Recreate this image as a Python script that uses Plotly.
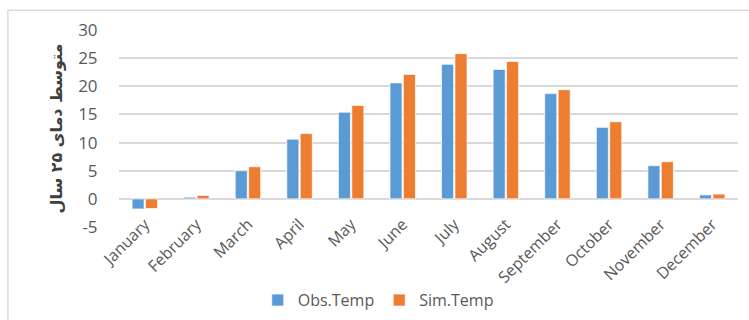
import plotly.graph_objects as go

months = ["January", "February", "March", "April", "May", "June", "July",
          "August", "September", "October", "November", "December"]
obs_temp = [-1.8, 0.3, 5.0, 10.6, 15.4, 20.6, 23.9, 23.0, 18.7, 12.7, 5.9, 0.7]
sim_temp = [-1.7, 0.6, 5.7, 11.6, 16.6, 22.1, 25.8, 24.4, 19.4, 13.7, 6.6, 0.85]
y_ticks = [-5, 0, 5, 10, 15, 20, 25, 30]

text_grey = "#595959"
font_main = "Open Sans"

fig = go.Figure()
fig.add_trace(go.Bar(
    x=months, y=obs_temp, name="Obs.Temp",
    marker=dict(color="#5B9BD5", line=dict(color="rgba(255,255,255,0.7)", width=1)),
))
fig.add_trace(go.Bar(
    x=months, y=sim_temp, name="Sim.Temp",
    marker=dict(color="#ED7D31", line=dict(color="rgba(255,255,255,0.7)", width=1)),
))

fig.update_layout(
    width=749, height=320,
    margin=dict(l=119, r=11, t=29.5, b=93, autoexpand=False),
    paper_bgcolor="white", plot_bgcolor="white",
    barmode="group", bargap=0.48, bargroupgap=0.1,
    font=dict(family=font_main, color=text_grey),
    showlegend=True,
    legend=dict(
        orientation="h", xref="container", yref="container",
        x=0.505, xanchor="center", y=0.062, yanchor="middle",
        font=dict(size=16, color=text_grey), itemwidth=30,
    ),
    xaxis=dict(
        tickangle=-45, tickfont=dict(size=16, color=text_grey),
        ticklabelstandoff=-16,
        showgrid=False, showline=False, ticks="", automargin=False,
    ),
    yaxis=dict(
        range=[-5, 30], tickvals=y_ticks, ticktext=[str(v) for v in y_ticks],
        tickfont=dict(size=17, color=text_grey), automargin=False,
        showgrid=True, gridcolor="#D9D9D9", gridwidth=2,
        zeroline=True, zerolinecolor="#D9D9D9", zerolinewidth=2,
        ticks="outside", ticklen=17, tickcolor="rgba(0,0,0,0)",
        title=dict(text="<b>متوسط دمای ۲۵ سال</b>",
                   font=dict(family="DejaVu Sans", size=16, color="#404040"),
                   standoff=11),
    ),
    shapes=[
        dict(type="line", xref="paper", yref="paper", x0=-0.18, x1=1.1,
             y0=1.1, y1=1.1, line=dict(color="#D9D9D9", width=1.5)),
        dict(type="line", xref="paper", yref="paper", x0=-0.1795, x1=-0.1795,
             y0=1.1, y1=-0.6, line=dict(color="#D9D9D9", width=1.5)),
    ],
)

fig.write_html("out.html")
